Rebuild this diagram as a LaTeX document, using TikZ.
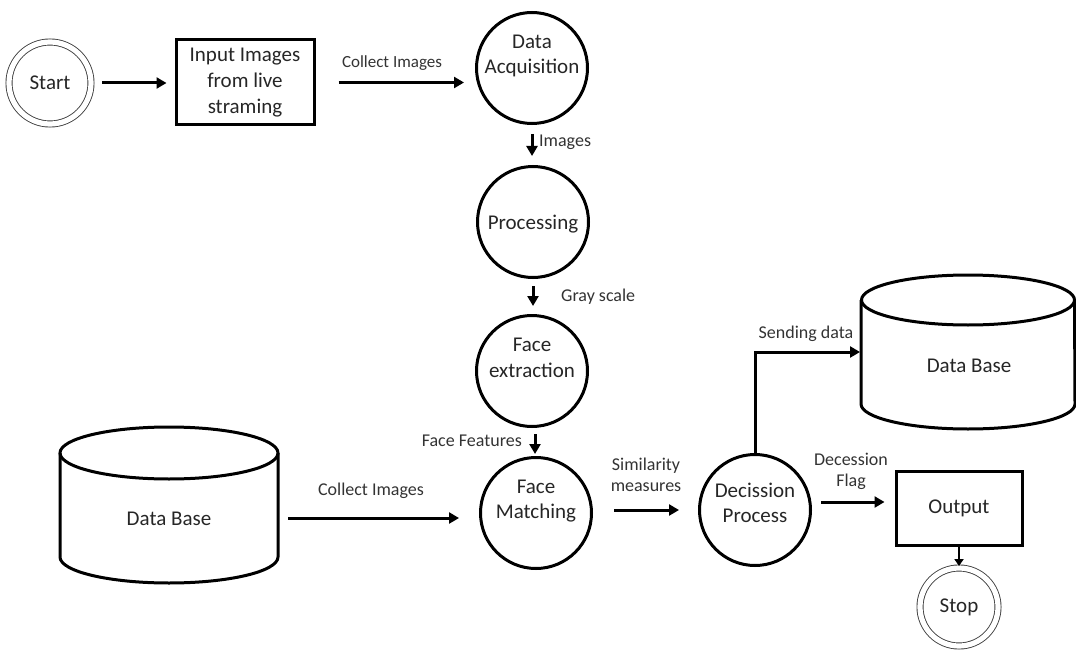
\documentclass[tikz,border=0pt]{standalone}
\usepackage{fontspec}
\setmainfont{Carlito}
\usetikzlibrary{arrows.meta}
\begin{document}
\begin{tikzpicture}[x=1pt,y=1pt,
  proc/.style={circle,draw,line width=3pt,minimum size=111pt,inner sep=0pt},
  ptext/.style={font=\fontsize{21}{25.5}\selectfont,text=black!85,align=center,inner sep=0pt},
  term/.style={circle,draw=black!75,double,double distance=5.2pt,line width=0.9pt,inner sep=0pt,
    font=\fontsize{21}{25}\selectfont,text=black!85},
  boxnode/.style={rectangle,draw,line width=3pt,inner sep=0pt,align=center,
    font=\fontsize{21}{26}\selectfont,text=black!85},
  cyl/.style={line width=3pt},
  arr/.style={line width=3pt,-{Triangle[length=10pt,width=11pt]}},
  lab/.style={font=\fontsize{18}{21}\selectfont,text=black!80,align=center,inner sep=0pt}]
\useasboundingbox (0,0) rectangle (1076,-650);

% terminals and boxes
\node[term,minimum size=82pt] (start) at (50,-83) {Start};
\node[boxnode,minimum width=138pt,minimum height=85pt] (inp) at (245,-82.5) {Input Images\\from live\\straming};
\node[boxnode,minimum width=126pt,minimum height=74pt] (out) at (959,-508) {Output};
\node[term,minimum size=78pt] (stop) at (959,-607) {Stop};

% process circles
\node[proc] (da) at (532,-68) {};
\node[ptext] (da-t) at (532,-56) {Data\\Acquisition};
\node[proc] (pr) at (533,-222) {};
\node[ptext] (pr-t) at (533,-224) {Processing};
\node[proc] (fe) at (532,-371) {};
\node[ptext] (fe-t) at (532,-358) {Face\\extraction};
\node[proc] (fm) at (536,-513) {};
\node[ptext] (fm-t) at (536,-501) {Face\\Matching};
\node[proc] (dp) at (755,-510) {};
\node[ptext] (dp-t) at (755,-503) {Decission\\Process};

% databases
\draw[cyl] (60,-453) -- (60,-557) arc[start angle=180,end angle=360,x radius=109,y radius=26] -- (278,-453);
\draw[cyl] (169,-453) ellipse[x radius=109,y radius=26];
\node[ptext] (dbl) at (169,-519) {Data Base};
\coordinate (dbl-e) at (278,-518);

\draw[cyl] (861,-300) -- (861,-404) arc[start angle=180,end angle=360,x radius=107,y radius=25] -- (1074.5,-300);
\draw[cyl] (968,-300) ellipse[x radius=106.5,y radius=25];
\node[ptext] (dbr) at (969,-366) {Data Base};
\coordinate (dbr-w) at (861,-352);

% connectors
\draw[arr,shorten <=11pt,shorten >=8pt] (start.east) -- (start.east -| inp.west);
\draw[arr,shorten <=23pt,shorten >=11pt] (inp.east) -- (inp.east -| da.west);
\node[lab,font=\fontsize{17}{20}\selectfont] (l-ci1) at (392,-63) {Collect Images};
\draw[arr,shorten <=9pt,shorten >=9pt] (da.south) -- (da.south |- pr.north);
\node[lab,anchor=west] (l-img) at (539,-142) {Images};
\draw[arr,shorten <=7pt,shorten >=8pt] (pr.south) -- (pr.south |- fe.north);
\node[lab,anchor=west] (l-gray) at (561,-297) {Gray scale};
\draw[arr,shorten <=6pt,shorten >=2pt] ([xshift=3pt]fe.south) -- ([xshift=3pt]fe.south |- fm.north);
\node[lab,anchor=east] (l-ff) at (522,-441) {Face Features};
\draw[arr,shorten <=10pt,shorten >=20pt] (dbl-e) -- (dbl-e -| fm.west);
\node[lab] (l-ci2) at (371,-491) {Collect Images};
\draw[arr,shorten <=21pt,shorten >=19pt] (fm.east |- dp.west) -- (dp.west);
\node[lab] (l-sim) at (646,-475) {Similarity\\measures};
\draw[arr,shorten >=1pt] (dp.north) |- (dbr-w);
\node[lab] (l-send) at (806,-334) {Sending data};
\draw[arr,shorten <=9pt,shorten >=10pt] ([yshift=8pt]dp.east) -- ([yshift=8pt]dp.east -| out.west);
\node[lab] (l-flag) at (851,-471) {Decession\\Flag};
\draw[line width=2.4pt,-{Triangle[length=7pt,width=9pt]},shorten >=1.5pt] (out.south) -- (stop.north);
\end{tikzpicture}
\end{document}
